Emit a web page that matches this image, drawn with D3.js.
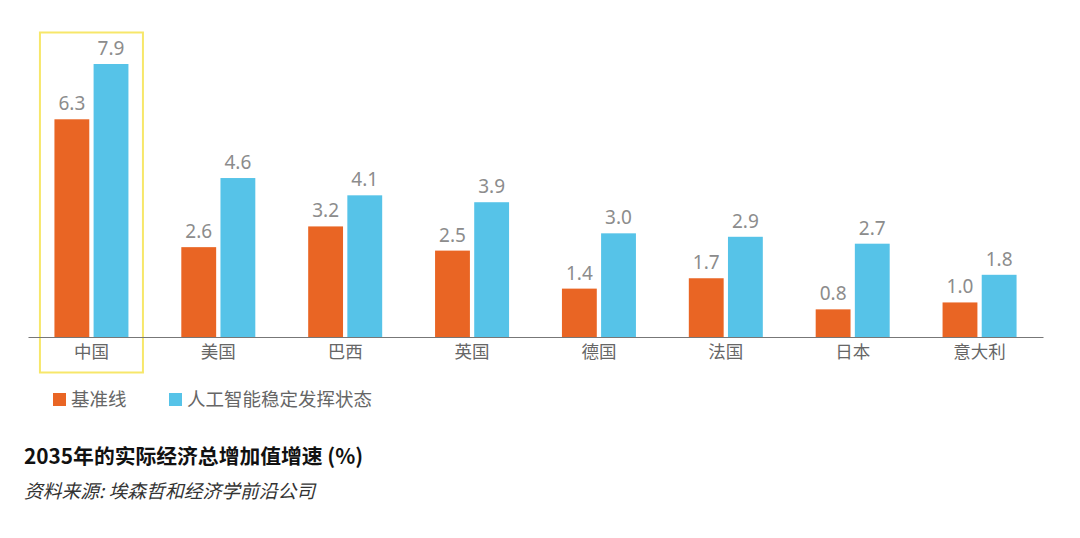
<!DOCTYPE html>
<html>
<head>
<meta charset="utf-8">
<script src="https://cdn.jsdelivr.net/npm/d3@7"></script>
<style>
  body { margin: 0; background: #fff; }
  text { font-family: "Noto Sans CJK SC", "Noto Sans", sans-serif; }
</style>
</head>
<body>
<svg id="chart"></svg>
<script>
// Chart data
const countries = ["中国", "美国", "巴西", "英国", "德国", "法国", "日本", "意大利"];
const baseline = [6.3, 2.6, 3.2, 2.5, 1.4, 1.7, 0.8, 1.0];
const aiSteady = [7.9, 4.6, 4.1, 3.9, 3.0, 2.9, 2.7, 1.8];
const seriesNames = ["基准线", "人工智能稳定发挥状态"];
const colors = ["#e96524", "#56c3e8"];

const width = 1080, height = 538;
const svg = d3.select("#chart").attr("width", width).attr("height", height);

const baseY = 337;
const xScale = d3.scaleBand()
    .domain(countries)
    .range([28, 1043])
    .paddingInner(0)
    .paddingOuter(0);

const yScale = d3.scaleLinear()
    .domain([0, 7.9])
    .range([baseY, 64]);

const sub = d3.scaleBand()
    .domain([0, 1])
    .range([0, 74])
    .paddingInner(0.11);

const groupData = countries.map((c, i) => ({ c, vals: [baseline[i], aiSteady[i]] }));

// highlight box around China
const hx = xScale(countries[0]) + xScale.bandwidth() / 2;
svg.append("rect")
    .attr("x", hx - 51.5)
    .attr("y", 32.5)
    .attr("width", 103)
    .attr("height", 340)
    .attr("fill", "none")
    .attr("stroke", "#f7e76a")
    .attr("stroke-width", 2);

const groups = svg.selectAll(".grp")
    .data(groupData)
  .join("g")
    .attr("class", "grp")
    .attr("transform", d => `translate(${xScale(d.c) + xScale.bandwidth() / 2 - 37},0)`);

groups.selectAll("rect")
    .data(d => d.vals.map((v, k) => ({ v, k })))
  .join("rect")
    .attr("x", d => sub(d.k))
    .attr("y", d => yScale(d.v))
    .attr("width", sub.bandwidth())
    .attr("height", d => baseY - yScale(d.v))
    .attr("fill", d => colors[d.k]);

groups.selectAll(".val")
    .data(d => d.vals.map((v, k) => ({ v, k })))
  .join("text")
    .attr("class", "val")
    .attr("x", d => sub(d.k) + sub.bandwidth() / 2)
    .attr("y", d => yScale(d.v) - 9)
    .attr("text-anchor", "middle")
    .attr("fill", "#8c8c8c")
    .attr("font-size", 19)
    .style("font-family", '"Noto Sans", sans-serif')
    .text(d => d3.format(".1f")(d.v));

// x axis
const xAxis = d3.axisBottom(xScale).tickSize(0).tickPadding(9).tickSizeOuter(0);
const xAxisG = svg.append("g")
    .attr("transform", `translate(0,${baseY})`)
    .call(xAxis);
xAxisG.select(".domain").attr("stroke", "#777").attr("stroke-width", 1);
xAxisG.selectAll("text")
    .attr("font-size", 17.5)
    .attr("fill", "#666")
    .style("font-family", '"Noto Sans CJK SC", sans-serif');

// legend
const legendX = [53, 169];
const legend = svg.selectAll(".legend")
    .data(seriesNames)
  .join("g")
    .attr("class", "legend")
    .attr("transform", (d, i) => `translate(${legendX[i]},393)`);
legend.append("rect")
    .attr("width", 13).attr("height", 13)
    .attr("fill", (d, i) => colors[i]);
legend.append("text")
    .attr("x", 18).attr("y", 13)
    .attr("font-size", 18.5)
    .attr("fill", "#666")
    .text(d => d);

// title and source
svg.append("text")
    .attr("x", 24).attr("y", 464)
    .attr("font-size", 20.8)
    .attr("font-weight", "bold")
    .attr("fill", "#111")
    .text("2035年的实际经济总增加值增速 (%)");

svg.append("text")
    .attr("x", 24).attr("y", 498)
    .attr("font-size", 18.8)
    .attr("font-style", "italic")
    .attr("fill", "#333")
    .text("资料来源: 埃森哲和经济学前沿公司");
</script>
</body>
</html>
